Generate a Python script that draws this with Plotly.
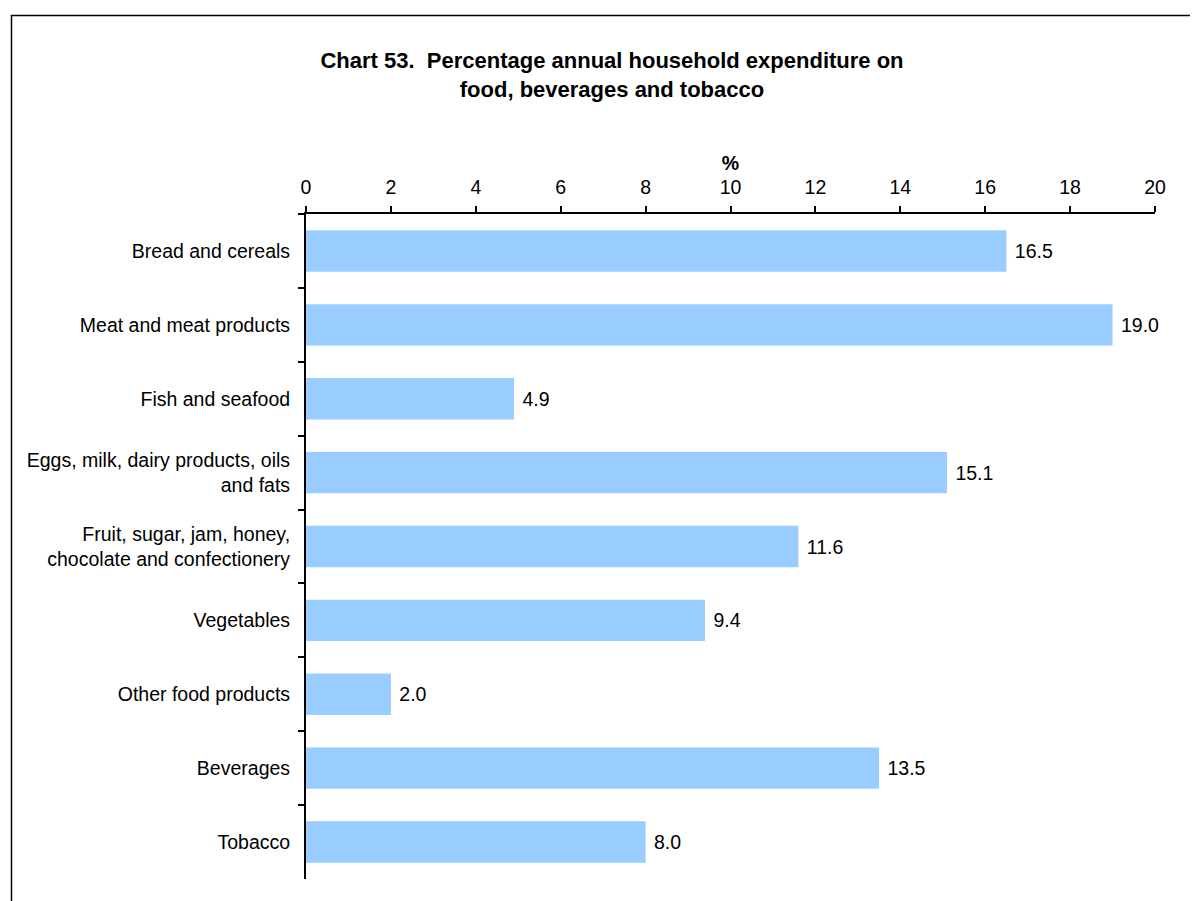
import plotly.graph_objects as go

categories = [
    "Bread and cereals",
    "Meat and meat products",
    "Fish and seafood",
    "Eggs, milk, dairy products, oils<br>and fats",
    "Fruit, sugar, jam, honey,<br>chocolate and confectionery",
    "Vegetables",
    "Other food products",
    "Beverages",
    "Tobacco",
]
values = [16.5, 19.0, 4.9, 15.1, 11.6, 9.4, 2.0, 13.5, 8.0]
x_ticks = [0, 2, 4, 6, 8, 10, 12, 14, 16, 18, 20]

FONT = "Liberation Sans, Arial, sans-serif"
FS = 19.5

OFF = 8  # page body margin
W, H = 1198 - OFF, 901 - OFF
ml, mr, mt, mb = 306 - OFF, 43, 214 - OFF, 22
pw, ph = W - ml - mr, H - mt - mb

fig = go.Figure()
fig.add_trace(go.Bar(
    y=categories,
    x=values,
    orientation="h",
    marker=dict(color="#99CCFF", line=dict(width=0)),
    width=0.56,
    text=[f"{v:.1f}" for v in values],
    texttemplate=" %{text}",
    textposition="outside",
    textfont=dict(family=FONT, size=FS, color="black"),
    cliponaxis=False,
    showlegend=False,
))

def px_to_paper_x(px):
    return (px - OFF - ml) / pw

def px_to_paper_y(py):
    return 1 - (py - OFF - mt) / ph

fig.update_layout(
    width=W,
    height=H,
    margin=dict(l=ml, r=mr, t=mt, b=mb, autoexpand=False),
    paper_bgcolor="white",
    plot_bgcolor="white",
    font=dict(family=FONT, size=FS, color="black"),
    title=dict(
        text="Chart 53.  Percentage annual household expenditure on<br>food, beverages and tobacco",
        x=(612 - OFF) / W,
        xanchor="center",
        y=1 - (68 - OFF) / H,
        yanchor="top",
        font=dict(family=FONT, size=22, color="black", weight="bold"),
    ),
    xaxis=dict(
        side="top",
        range=[0, 20],
        tickvals=x_ticks,
        ticktext=[str(t) for t in x_ticks],
        showgrid=False,
        zeroline=False,
        showline=True,
        linecolor="black",
        linewidth=2,
        ticks="outside",
        ticklen=6,
        tickwidth=2,
        tickcolor="black",
        tickfont=dict(family=FONT, size=FS, color="black"),
        ticklabelstandoff=4,
        title=dict(text="%", font=dict(family=FONT, size=FS, color="black", weight="bold"), standoff=0),
    ),
    yaxis=dict(
        autorange=False,
        range=[len(categories) - 0.5, -0.5],
        type="category",
        showgrid=False,
        zeroline=False,
        showline=True,
        linecolor="black",
        linewidth=2,
        ticks="outside",
        tickson="boundaries",
        ticklen=6,
        tickwidth=2,
        tickcolor="black",
        tickfont=dict(family=FONT, size=FS, color="black"),
        ticklabelstandoff=10,
    ),
    shapes=[dict(
        type="rect",
        xref="paper", yref="paper",
        x0=px_to_paper_x(11.5), x1=px_to_paper_x(1230),
        y0=px_to_paper_y(940), y1=px_to_paper_y(15.5),
        line=dict(color="black", width=1.5),
        fillcolor="rgba(0,0,0,0)",
        layer="below",
    )],
)

fig.write_html("out.html")
